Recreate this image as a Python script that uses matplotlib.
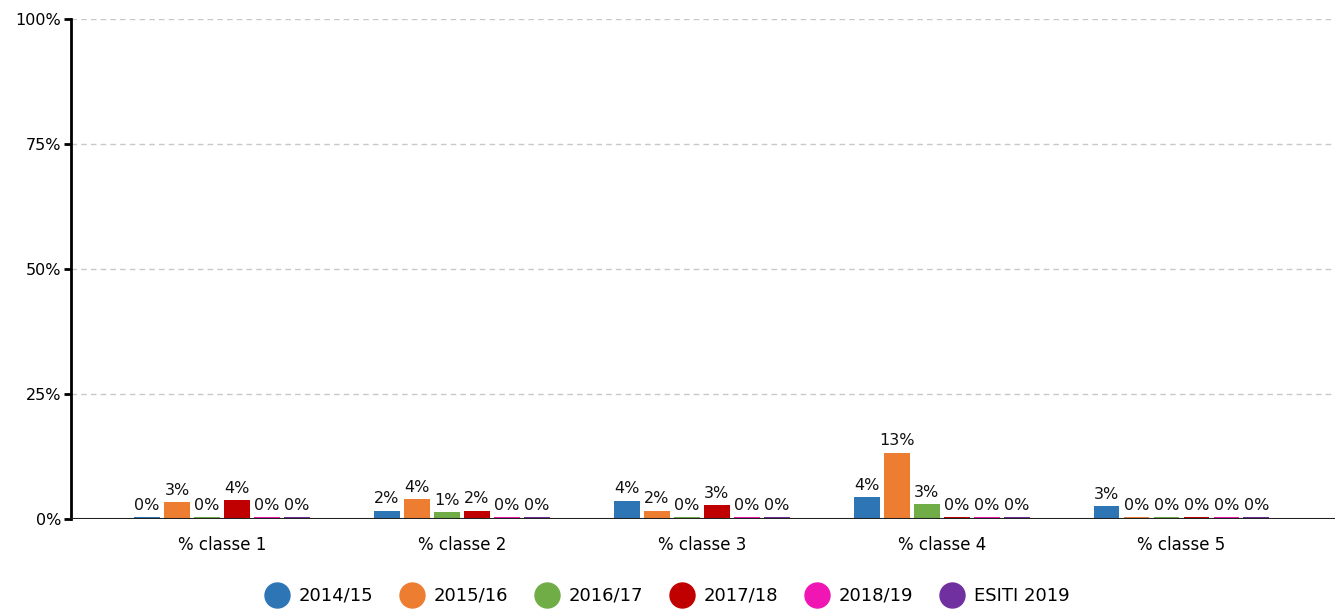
import matplotlib
matplotlib.use("Agg")
import matplotlib.pyplot as plt
from matplotlib.lines import Line2D
import numpy as np

categories = ["% classe 1", "% classe 2", "% classe 3", "% classe 4", "% classe 5"]
series_names = ["2014/15", "2015/16", "2016/17", "2017/18", "2018/19", "ESITI 2019"]
colors = ["#2e75b6", "#ed7d31", "#70ad47", "#c00000", "#f016b4", "#7030a0"]
values = [
    [0.0, 1.7, 3.7, 4.4, 2.6],   # 2014/15
    [3.4, 4.0, 1.7, 13.3, 0.0],  # 2015/16
    [0.0, 1.4, 0.0, 3.0, 0.0],   # 2016/17
    [3.8, 1.7, 2.8, 0.0, 0.0],   # 2017/18
    [0.0, 0.0, 0.0, 0.0, 0.0],   # 2018/19
    [0.0, 0.0, 0.0, 0.0, 0.0],   # ESITI 2019
]
yticks = [0, 25, 50, 75, 100]

plt.rcParams['font.family'] = ['DejaVu Sans']
fig = plt.figure(figsize=(13.42, 6.12), dpi=100)
ax = fig.add_axes([71/1342, 1 - 519/612, (1335-71)/1342, 500/612])

x = np.arange(len(categories))
step = 0.125
width = 0.108
n = len(series_names)
for i, (name, vals, c) in enumerate(zip(series_names, values, colors)):
    pos = x + (i - (n - 1) / 2) * step
    heights = [max(v, 0.4) for v in vals]
    ax.bar(pos, heights, width=width, color=c, zorder=3)
    for p, v, h in zip(pos, vals, heights):
        ax.annotate(f"{int(round(v))}%", (p, h), xytext=(0, 3), textcoords="offset points",
                    ha="center", va="bottom", fontsize=11.5, color="#111111", zorder=4)

ax.set_xlim(-0.63, 4.64)
ax.set_ylim(0, 100)
ax.set_yticks(yticks)
ax.set_yticklabels([f"{t}%" for t in yticks], fontsize=11.5)
ax.set_xticks(x)
ax.set_xticklabels(categories, fontsize=12)
ax.tick_params(axis="x", length=0, pad=12)
ax.tick_params(axis="y", length=5, width=2, direction="out", pad=2)
ax.yaxis.grid(True, linestyle=(0, (4, 3)), color="#c8c8c8", linewidth=1, zorder=0)
for s in ["top", "right", "bottom"]:
    ax.spines[s].set_visible(False)
ax.spines["left"].set_linewidth(2)
ax.axhline(0, color="#222222", linewidth=1.5, zorder=5)

handles = [Line2D([0], [0], marker="o", linestyle="none", markersize=18,
                  markerfacecolor=c, markeredgecolor=c) for c in colors]
fig.legend(handles, series_names, loc="center", bbox_to_anchor=(668/1342, 1 - 596/612),
           ncol=6, frameon=False, fontsize=13, handletextpad=0.6, columnspacing=1.55,
           handlelength=1.2)

fig.savefig("out.png", dpi=100)
